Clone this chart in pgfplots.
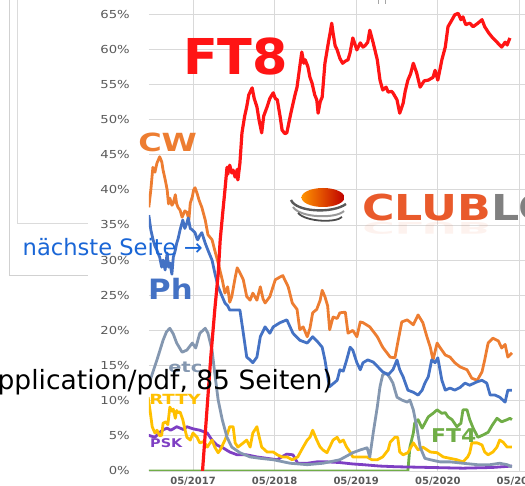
\documentclass[border=0pt]{standalone}
\usepackage{fontspec}
\setmainfont{DejaVu Sans}
\usepackage{pgfplots}
\pgfplotsset{compat=1.18}
\definecolor{cFT}{HTML}{FF1414}
\definecolor{cCW}{HTML}{ED7D31}
\definecolor{cPh}{HTML}{4472C4}
\definecolor{cEtc}{HTML}{8497B0}
\definecolor{cRT}{HTML}{FFC000}
\definecolor{cPSK}{HTML}{7E3FC3}
\definecolor{cFTv}{HTML}{70AD47}
\definecolor{cGrid}{HTML}{D9D9D9}
\definecolor{cTick}{HTML}{595959}
\definecolor{cLink}{HTML}{1A66D6}
\definecolor{cLogo}{HTML}{E95A2B}
\definecolor{cLogoG}{HTML}{808080}
\begin{document}
\begin{tikzpicture}[x=1pt,y=1pt]
\path[use as bounding box] (0,0) rectangle (525,486);
\clip (0,0) rectangle (525,486);
% page frames behind the chart
\draw[color=black!18, line width=0.9pt] (9,486) -- (9,211) -- (88,211);
\draw[color=black!14, line width=0.9pt] (17,486) -- (17,263) -- (88,263);
\draw[color=black!35, line width=0.6pt] (378,486) -- (378,482);
\draw[color=black!35, line width=0.6pt] (385,486) -- (385,482);
\begin{axis}[
  at={(148.8pt,15pt)}, anchor=south west,
  scale only axis, width=384.2pt, height=471pt,
  xmin=-6.5, xmax=50, ymin=0, ymax=67,
  axis line style={draw=none},
  grid=major, major grid style={cGrid, line width=0.8pt},
  major tick length=0pt,
  xtick={0,12,24,36,48},
  xticklabels={05/2017,05/2018,05/2019,05/2020,05/2021},
  ytick={0,5,...,65},
  /pgf/number format/assume math mode=true,
  yticklabel={\pgfmathprintnumber{\tick}\%},
  yticklabel style={font=\fontsize{11}{11}\selectfont, text=cTick, inner sep=0pt, anchor=east, xshift=-18.8pt, xscale=1.2},
  xticklabel style={font=\fontsize{10}{10}\selectfont\bfseries, text=cTick, inner sep=0pt, anchor=north, yshift=-5.5pt},
  every axis plot/.append style={no markers, line join=round, line width=2.8pt},
]
% FT4
\addplot[cFTv] coordinates {(-6.5,0) (31.6,0) (31.9,3.4) (32.4,5.4) (32.6,6.8) (33.1,7.3) (33.7,6.1) (34.1,6.8) (34.6,7.7) (35.3,8.2) (35.9,8.7) (36.6,8.2) (37.1,8.3) (37.5,7.7) (38.1,7.3) (38.8,6.3) (39.4,6.8) (39.7,8.7) (40.3,8.7) (40.7,7.3) (41.2,6.1) (41.9,4.8) (42.6,5.1) (43.4,5.5) (44.0,6.5) (44.7,7.5) (45.4,7.0) (46.2,7.3) (46.6,7.5) (46.9,7.3)};
% PSK
\addplot[cPSK] coordinates {(-6.6,5.1) (-5.6,4.8) (-4.9,5.5) (-4.3,5.9) (-3.8,6.1) (-3.3,5.8) (-2.9,6.0) (-2.4,6.3) (-1.9,6.1) (-1.4,5.9) (-0.9,6.3) (0,6.0) (1.0,5.8) (2.1,5.4) (2.8,4.4) (3.5,3.7) (4.4,3.3) (5.4,2.7) (6.5,2.3) (7.9,2.3) (9.4,2.0) (10.9,1.8) (12.4,1.6) (13.2,2.1) (13.8,2.4) (14.7,2.3) (15.4,1.1) (16.8,1.1) (18.2,1.3) (19.7,1.3) (21.6,1.2) (23.5,1.0) (25.0,0.9) (27.5,0.7) (30.0,0.6) (35.0,0.5) (39.7,0.4) (44.0,0.5) (46.9,0.7)};
% RTTY
\addplot[cRT] coordinates {(-6.6,10.5) (-6.3,8.5) (-6.0,6.3) (-5.6,5.4) (-5.3,5.8) (-4.9,5.0) (-4.6,5.1) (-4.4,6.8) (-4.0,7.0) (-3.7,6.6) (-3.4,9.1) (-3.1,8.5) (-2.9,8.8) (-2.6,7.5) (-2.4,8.6) (-2.2,8.3) (-1.9,8.4) (-1.5,7.3) (-1.2,6.0) (-0.9,4.8) (-0.4,4.4) (0,5.4) (0.6,4.8) (1.0,4.0) (1.6,4.2) (2.1,3.4) (2.8,4.4) (3.2,3.4) (3.7,2.6) (4.0,3.0) (4.7,4.4) (5.1,5.4) (5.4,6.3) (5.9,6.3) (6.2,4.0) (6.6,3.4) (7.4,4.0) (7.9,4.4) (8.4,3.4) (8.8,5.4) (9.4,6.3) (9.6,5.4) (10.1,3.4) (10.9,2.7) (11.8,2.7) (12.4,2.3) (13.1,2.0) (13.8,2.0) (14.6,1.6) (15.4,2.0) (16.2,3.4) (16.8,4.4) (17.2,4.8) (17.6,5.8) (18.2,4.4) (18.7,3.4) (19.1,3.0) (19.7,2.6) (20.1,3.4) (20.6,4.4) (21.2,4.8) (21.6,4.1) (22.1,4.4) (22.6,3.4) (23.1,2.7) (23.5,2.0) (24.6,2.0) (25.6,2.0) (26.3,1.6) (27.1,1.6) (27.9,2.0) (28.7,3.0) (29.0,4.1) (29.7,4.8) (30.1,4.8) (30.4,2.7) (30.9,2.3) (31.6,2.6) (32.4,4.0) (33.1,3.0) (33.8,3.4) (34.9,2.7) (35.9,2.6) (36.8,2.0) (37.8,1.8) (38.8,1.6) (39.7,1.3) (40.4,2.0) (40.7,2.6) (41.0,4.0) (41.8,4.0) (42.5,3.7) (42.9,2.7) (43.4,2.3) (44.1,2.7) (44.7,3.4) (45.1,4.4) (45.6,4.1) (46.2,3.4) (46.9,3.4)};
% etc
\addplot[cEtc] coordinates {(-6.3,12.9) (-5.3,15.8) (-4.4,18.6) (-3.9,19.8) (-3.4,20.3) (-2.9,19.5) (-2.4,18.2) (-1.6,16.9) (-0.9,17.2) (-0.1,18.2) (0.4,17.5) (1.0,19.6) (1.8,20.3) (2.2,19.6) (2.8,17.2) (3.2,13.9) (3.7,10.1) (4.3,7.3) (5.0,4.8) (5.7,3.4) (6.9,2.6) (8.4,2.0) (9.9,1.8) (11.8,1.6) (14.3,1.1) (16.8,0.9) (19.1,1.1) (21.6,1.6) (23.5,2.6) (24.6,3.0) (25.6,3.3) (26.0,2.0) (26.5,5.4) (27.1,9.1) (27.5,12.0) (27.9,13.7) (28.5,13.9) (29.0,13.2) (29.4,12.5) (30.0,10.5) (30.7,10.1) (31.5,9.8) (31.9,10.1) (32.4,8.7) (32.9,6.3) (33.4,3.4) (34.1,1.8) (34.9,1.6) (36.3,1.3) (37.8,1.3) (39.7,1.1) (41.8,0.9) (43.7,0.9) (45.1,1.1) (46.2,0.9) (46.9,0.6)};
% CW
\addplot[cCW] coordinates {(-6.5,37.5) (-6.2,40.0) (-5.9,43.2) (-5.6,42.5) (-5.3,43.8) (-4.9,44.7) (-4.6,44.0) (-4.4,42.8) (-4.1,41.5) (-3.8,40.0) (-3.6,38.0) (-3.4,38.8) (-3.1,37.8) (-2.9,38.1) (-2.6,39.3) (-2.4,38.0) (-2.2,37.5) (-1.9,37.1) (-1.6,36.1) (-1.2,37.0) (-0.9,36.8) (-0.6,35.8) (-0.4,38.1) (-0.1,39.0) (0.1,40.0) (0.3,40.3) (0.6,39.5) (0.9,38.5) (1.3,37.5) (1.8,35.7) (2.2,33.6) (2.8,32.9) (3.2,31.4) (3.7,29.6) (4.3,27.2) (4.7,25.3) (5.1,26.2) (5.4,24.0) (5.7,24.8) (6.2,27.5) (6.5,28.9) (6.9,28.2) (7.4,27.2) (7.9,24.8) (8.4,24.3) (8.8,25.3) (9.4,24.3) (9.9,26.2) (10.3,24.5) (10.6,23.9) (11.3,24.8) (12.1,27.2) (12.8,27.6) (13.2,27.8) (14.0,26.2) (14.6,23.9) (15.3,23.0) (15.7,20.1) (16.2,20.5) (16.8,19.1) (17.2,20.3) (17.6,22.5) (18.2,23.0) (18.7,24.3) (19.0,25.7) (19.4,24.8) (19.8,23.5) (20.1,20.1) (20.6,21.9) (21.2,21.7) (21.6,22.5) (22.4,22.6) (22.8,19.6) (23.5,20.0) (24.1,19.1) (24.6,21.2) (25.0,21.1) (26.0,20.5) (27.1,19.1) (27.9,17.6) (29.0,16.2) (29.7,16.1) (30.1,18.2) (30.7,21.2) (31.5,21.5) (32.4,20.8) (33.1,22.2) (33.8,21.1) (34.4,19.1) (34.9,17.6) (35.3,15.8) (35.9,18.2) (36.3,17.6) (37.1,16.5) (37.8,16.2) (38.5,15.4) (39.3,14.8) (40.3,14.4) (41.0,13.2) (41.8,12.9) (42.5,14.1) (42.9,15.8) (43.4,18.2) (44.1,18.9) (44.9,18.5) (45.4,17.5) (45.9,18.0) (46.3,16.2) (46.9,16.8)};
% Ph
\addplot[cPh] coordinates {(-6.5,36.4) (-6.2,34.3) (-5.9,33.0) (-5.6,32.0) (-5.3,31.4) (-4.9,30.4) (-4.6,29.0) (-4.4,30.0) (-4.1,28.6) (-3.8,31.0) (-3.6,29.0) (-3.4,29.6) (-3.1,28.0) (-2.9,30.4) (-2.6,31.4) (-2.4,32.4) (-2.2,33.0) (-1.9,34.3) (-1.5,35.7) (-1.2,34.5) (-0.9,35.3) (-0.7,36.0) (-0.4,34.5) (-0.1,34.3) (0.3,33.9) (0.6,33.0) (0.7,32.9) (1.0,33.5) (1.3,33.9) (1.8,32.4) (2.2,31.4) (2.8,30.0) (3.2,28.2) (3.7,26.2) (4.3,24.8) (4.7,23.9) (5.1,23.5) (5.4,22.9) (6.2,22.9) (6.9,22.9) (7.4,19.6) (7.9,16.2) (8.4,15.8) (8.8,15.4) (9.4,16.2) (9.9,19.1) (10.6,20.5) (11.3,19.6) (11.8,20.5) (12.8,21.1) (13.8,21.5) (14.7,19.6) (15.7,18.6) (16.8,18.2) (17.6,19.1) (18.4,18.3) (19.0,17.6) (19.4,15.8) (19.9,12.9) (20.1,12.0) (21.2,12.9) (21.6,14.4) (22.1,14.2) (22.6,15.8) (23.1,17.6) (23.5,17.2) (24.1,15.4) (24.6,14.4) (25.0,15.4) (25.7,15.8) (26.5,15.5) (27.2,14.8) (27.9,14.1) (28.7,13.7) (29.4,14.4) (30.0,15.8) (30.4,14.4) (30.9,13.4) (31.6,11.5) (32.4,11.2) (33.1,10.8) (33.7,11.5) (34.1,12.5) (34.6,13.4) (35.1,15.8) (35.6,15.4) (36.0,16.1) (36.6,12.9) (37.1,11.5) (37.8,11.8) (38.5,11.5) (39.3,11.9) (40.0,12.5) (40.7,12.2) (41.8,12.7) (42.5,12.9) (43.2,12.5) (43.7,10.8) (44.4,10.8) (45.1,10.5) (45.9,9.8) (46.3,11.5) (46.9,11.5)};
% FT8
\addplot[cFT, line width=3.2pt] coordinates {(1.4,0) (2.0,8) (2.6,16) (3.2,22.9) (3.7,28) (4.0,32.9) (4.4,37) (4.7,40.0) (5.0,43.2) (5.1,42.2) (5.4,43.5) (5.7,42.4) (5.9,42.8) (6.2,41.8) (6.5,42.9) (6.6,41.4) (6.9,43.8) (7.2,48.1) (7.6,50.5) (7.9,51.8) (8.2,53.5) (8.7,54.5) (9.0,53.0) (9.4,51.8) (9.7,50.0) (10.1,48.1) (10.4,50.5) (10.9,51.8) (11.3,53.0) (11.8,53.8) (12.1,53.0) (12.4,52.8) (12.8,50.5) (13.1,48.5) (13.5,48.0) (13.8,48.1) (14.3,50.5) (14.6,51.8) (15.0,53.5) (15.3,54.6) (15.7,57.5) (16.0,59.6) (16.3,58.0) (16.5,58.5) (16.9,57.5) (17.2,56.0) (17.5,55.2) (17.9,53.5) (18.2,52.8) (18.4,50.9) (18.7,52.5) (19.0,53.2) (19.4,58.0) (19.9,60.9) (20.2,62.5) (20.4,63.7) (20.6,62.3) (20.9,60.5) (21.2,59.9) (21.6,58.7) (22.0,58.0) (22.4,58.3) (22.8,58.5) (23.1,59.5) (23.5,61.6) (24.1,59.9) (24.6,60.9) (25.0,60.3) (25.3,60.5) (25.7,61.0) (26.0,62.7) (26.5,60.9) (27.1,58.5) (27.5,55.6) (27.9,54.2) (28.4,54.6) (28.7,53.9) (29.2,54.0) (29.4,53.8) (30.0,52.8) (30.4,50.9) (30.9,52.3) (31.2,54.0) (31.6,55.6) (32.0,56.5) (32.4,58.0) (32.9,56.6) (33.4,54.6) (34.0,55.5) (34.6,55.6) (35.3,56.0) (35.6,57.0) (36.0,55.6) (36.4,57.5) (36.6,58.5) (37.1,60.3) (37.5,63.2) (38.1,64.2) (38.5,64.9) (39.0,65.1) (39.4,64.2) (39.7,64.6) (40.1,63.5) (40.7,63.7) (41.2,63.2) (41.9,63.7) (42.5,64.2) (42.9,63.2) (43.5,62.3) (44.0,61.7) (44.4,61.3) (44.9,60.8) (45.4,60.3) (45.9,61.0) (46.2,60.6) (46.6,61.6)};
\end{axis}
% series labels
\node[anchor=base west, inner sep=0pt, text=cFT, font=\fontsize{49.4}{50}\selectfont\bfseries, xscale=1.03] at (183,411) {FT8};
\node[anchor=base west, inner sep=0pt, text=cCW, font=\fontsize{25}{25}\selectfont\bfseries, xscale=1.28] at (138,334) {CW};
\node[anchor=base west, inner sep=0pt, text=cPh, font=\fontsize{28}{28}\selectfont\bfseries, xscale=1.1] at (148,186) {Ph};
\node[anchor=base west, inner sep=0pt, text=cEtc, font=\fontsize{15}{15}\selectfont\bfseries, xscale=1.3] at (168,113) {etc};
\node[anchor=base west, inner sep=0pt, text=cRT, font=\fontsize{14}{14}\selectfont\bfseries, xscale=1.3] at (149,81) {RTTY};
\node[anchor=base west, inner sep=0pt, text=cPSK, font=\fontsize{12}{12}\selectfont\bfseries, xscale=1.2] at (150,38) {PSK};
\node[anchor=base west, inner sep=0pt, text=cFTv, font=\fontsize{19}{19}\selectfont\bfseries, xscale=1.15] at (431,43) {FT4};
% logo
\shade[left color=orange!85!yellow, right color=red!75!black] (323,288.5) ellipse [x radius=21.5, y radius=9.5];
\draw[line width=2.4pt, color=black!65] (291,286) .. controls (296,274) and (332,272) .. (346,282);
\draw[line width=2.0pt, color=black!40] (293,279) .. controls (300,268) and (336,267) .. (344,275);
\draw[line width=1.8pt, color=black!70] (298,273) .. controls (306,264) and (336,263) .. (342,269);
\node[anchor=base west, inner sep=0pt, text=cLogo, font=\fontsize{35.7}{36}\selectfont\bfseries, xscale=1.24] (club) at (362,265) {CLUB};
\node[anchor=base west, inner sep=0pt, text=cLogoG, font=\fontsize{35.7}{36}\selectfont\bfseries, xscale=1.24] at (club.base east) {LOG};
\node[anchor=base west, inner sep=0pt, text=cLogo, opacity=0.08, font=\fontsize{35.7}{36}\selectfont\bfseries, xscale=1.24, yscale=-0.45] at (362,263) {CLUB};
% page overlay text
\node[anchor=base west, inner sep=0pt, text=cLink, font=\fontsize{22.6}{23}\selectfont] at (22.5,230) {nächste Seite →};
\node[anchor=base east, inner sep=0pt, text=black, font=\fontsize{26.5}{27}\selectfont] at (333,96) {pplication/pdf, 85 Seiten)};
\end{tikzpicture}
\end{document}
